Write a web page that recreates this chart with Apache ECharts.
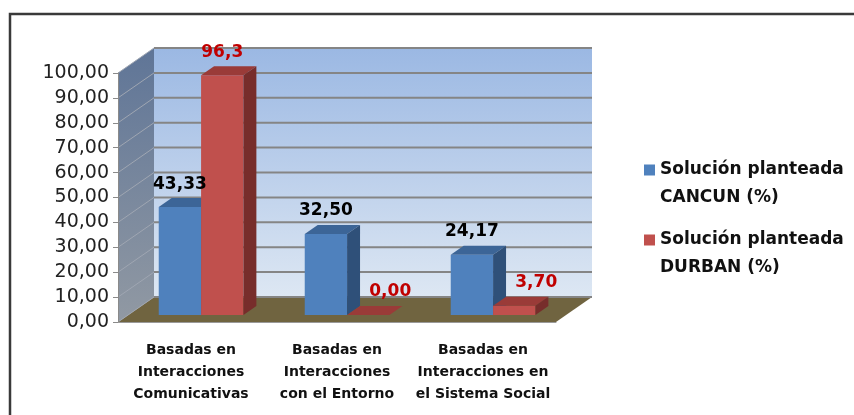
<!DOCTYPE html>
<html><head><meta charset="utf-8">
<script src="https://cdn.jsdelivr.net/npm/echarts@6/dist/echarts.min.js"></script>
<style>html,body{margin:0;padding:0;background:#fff}#c{width:854px;height:415px}</style>
</head><body><div id="c"></div>
<script>
const categories = ['Basadas en\nInteracciones\nComunicativas', 'Basadas en\nInteracciones\ncon el Entorno', 'Basadas en\nInteracciones en\nel Sistema Social'];
const cancunValues = [43.33, 32.50, 24.17];
const durbanValues = [96.3, 0.00, 3.70];
const cancunLabels = ['43,33', '32,50', '24,17'];
const durbanLabels = ['96,3', '0,00', '3,70'];
const seriesNames = ['Solución planteada\nCANCUN (%)', 'Solución planteada\nDURBAN (%)'];
const yTicks = [0, 10, 20, 30, 40, 50, 60, 70, 80, 90, 100];

// 3D look (pixels / fractions)
const DX = 36, DY = -25, D0 = 0.28, D1 = 0.64, BAR_FR = 0.29;
const FONT = '"DejaVu Sans", sans-serif';

function renderWalls(params, api) {
  const cs = params.coordSys;
  const x0 = cs.x, x1 = cs.x + cs.width;
  const yb = api.coord([0, yTicks[0]])[1];
  const yt = api.coord([0, yTicks[yTicks.length - 1]])[1];
  const ch = [];
  ch.push({ type: 'polygon', shape: { points: [[x0, yt], [x0 + DX, yt + DY], [x0 + DX, yb + DY], [x0, yb]] },
    style: { fill: new echarts.graphic.LinearGradient(0, 0, 0, 1, [{ offset: 0, color: '#5F7597' }, { offset: 1, color: '#9199A3' }]) } });
  ch.push({ type: 'rect', shape: { x: x0 + DX, y: yt + DY, width: x1 - x0, height: yb - yt },
    style: { fill: new echarts.graphic.LinearGradient(0, 0, 0, 1, [{ offset: 0, color: '#9BB8E3' }, { offset: 1, color: '#DDE7F3' }]) } });
  ch.push({ type: 'polygon', shape: { points: [[x0, yb], [x1, yb], [x1 + DX, yb + DY], [x0 + DX, yb + DY]] },
    style: { fill: '#706440' } });
  yTicks.forEach(function (v) {
    const y = api.coord([0, v])[1];
    ch.push({ type: 'line', shape: { x1: x0 + DX, y1: y + DY, x2: x1 + DX, y2: y + DY }, style: { stroke: '#858585', lineWidth: 2 } });
    ch.push({ type: 'line', shape: { x1: x0, y1: y, x2: x0 + DX, y2: y + DY }, style: { stroke: '#9FA6B2', lineWidth: 1 } });
  });
  return { type: 'group', children: ch };
}

function makeBarRender(labels, sIdx, cFront, cTop, cSide, labelColor) {
  return function (params, api) {
    const i = params.dataIndex;
    const v = api.value(1);
    const base = api.coord([api.value(0), 0]);
    const top = api.coord([api.value(0), v]);
    const band = api.size([1, 0])[0];
    const w = band * BAR_FR;
    const xl = base[0] - w + sIdx * w + D0 * DX;
    const xr = xl + w;
    const yb = base[1] + D0 * DY;
    const yt = top[1] + D0 * DY;
    const ddx = (D1 - D0) * DX, ddy = (D1 - D0) * DY;
    const shift = (yb - yt) < 14 ? 22 : 0;
    return { type: 'group', children: [
      { type: 'rect', shape: { x: xl, y: yt, width: w, height: yb - yt }, style: { fill: cFront } },
      { type: 'polygon', shape: { points: [[xl, yt], [xr, yt], [xr + ddx, yt + ddy], [xl + ddx, yt + ddy]] }, style: { fill: cTop } },
      { type: 'polygon', shape: { points: [[xr, yt], [xr + ddx, yt + ddy], [xr + ddx, yb + ddy], [xr, yb]] }, style: { fill: cSide } },
      { type: 'text', z2: 100, x: (xl + xr) / 2 + shift, y: yt + ddy - 14,
        style: { text: labels[i], fill: labelColor, font: 'bold 17px ' + FONT, align: 'center', verticalAlign: 'middle' } }
    ] };
  };
}

const chart = echarts.init(document.getElementById('c'), null, { renderer: 'canvas' });
chart.setOption({
  animation: false,
  backgroundColor: '#ffffff',
  graphic: [{ type: 'rect', shape: { x: 10, y: 14, width: 900, height: 500 }, style: { fill: 'none', stroke: '#3a3a3a', lineWidth: 2.5 }, z: 100 }],
  grid: { left: 118, top: 73, width: 438, height: 249 },
  legend: {
    orient: 'vertical', left: 644, top: 128, padding: 0,
    itemWidth: 11, itemHeight: 11, itemGap: -14, icon: 'rect',
    formatter: function (name) { return '\n' + name; },
    textStyle: { fontFamily: FONT, fontWeight: 'bold', fontSize: 17, color: '#111', lineHeight: 28 },
    data: seriesNames
  },
  xAxis: {
    type: 'category', data: categories, z: 5,
    axisLine: { lineStyle: { color: '#9a9a9a', width: 1 } },
    axisTick: { length: 5, lineStyle: { color: '#8a8a8a' } },
    axisLabel: { fontFamily: FONT, fontWeight: 'bold', fontSize: 14, color: '#111', lineHeight: 22, margin: 17, interval: 0 }
  },
  yAxis: {
    type: 'value', min: 0, max: 100, interval: 10, z: 5,
    axisLine: { show: true, lineStyle: { color: '#8a8a8a' } },
    axisTick: { show: true, length: 5, lineStyle: { color: '#8a8a8a' } },
    splitLine: { show: false },
    axisLabel: { fontFamily: FONT, fontSize: 19, color: '#222', margin: 9, formatter: function (v) { return v.toFixed(2).replace('.', ','); } }
  },
  series: [
    { type: 'custom', name: 'walls', renderItem: renderWalls, data: [[0, 0]], z: 1, silent: true, clip: false },
    { type: 'custom', name: seriesNames[0], itemStyle: { color: '#4F81BD' }, z: 3, clip: false,
      renderItem: makeBarRender(cancunLabels, 0, '#4F81BD', '#3C6597', '#2F5079', '#000000'),
      data: cancunValues.map(function (v, i) { return [i, v]; }) },
    { type: 'custom', name: seriesNames[1], itemStyle: { color: '#C0504D' }, z: 3, clip: false,
      renderItem: makeBarRender(durbanLabels, 1, '#C0504D', '#9A3B38', '#772D2B', '#C00000'),
      data: durbanValues.map(function (v, i) { return [i, v]; }) }
  ]
});
</script>
</body></html>
